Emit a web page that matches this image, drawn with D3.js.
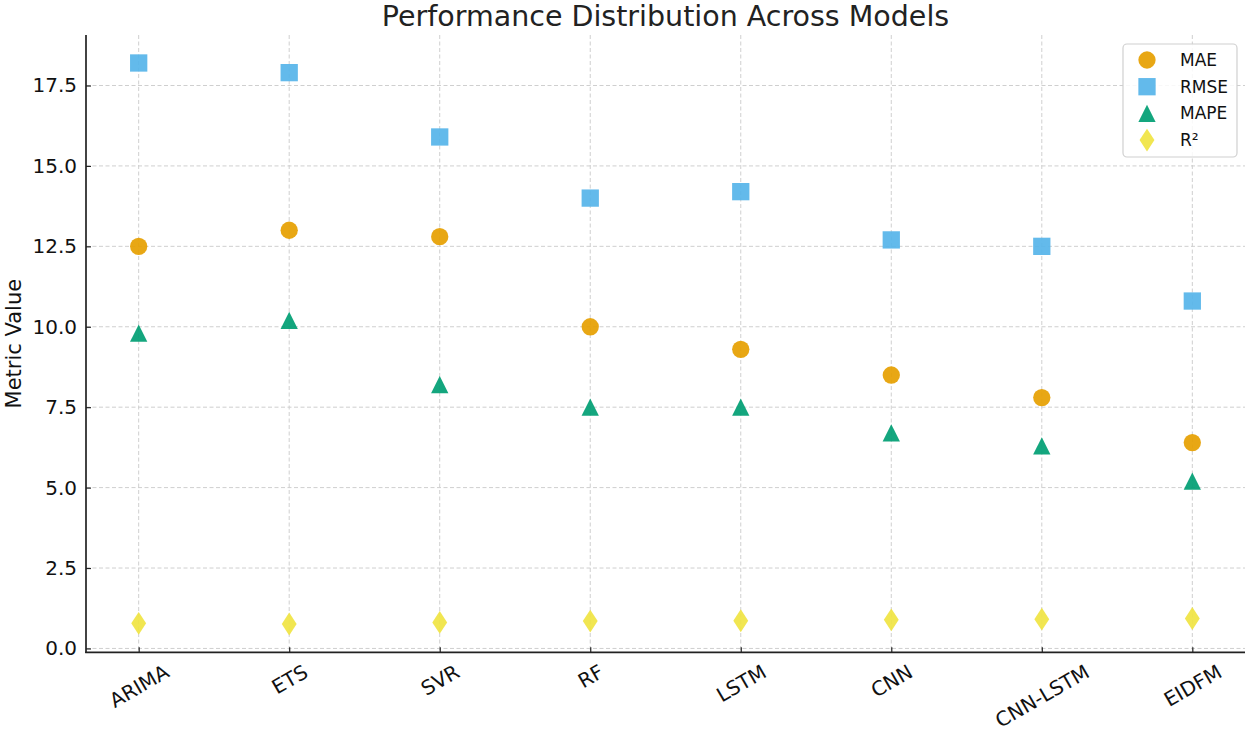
<!DOCTYPE html>
<html>
<head>
<meta charset="utf-8">
<script src="https://cdn.jsdelivr.net/npm/d3@7"></script>
<style>
  body { margin: 0; background: #fff; }
  svg { display: block; font-family: "DejaVu Sans", sans-serif; }
</style>
</head>
<body>
<svg id="chart" width="1250" height="729"></svg>
<script>
// Values
const models = ["ARIMA", "ETS", "SVR", "RF", "LSTM", "CNN", "CNN-LSTM", "EIDFM"];
const mae  = [12.5, 13.0, 12.8, 10.0, 9.3, 8.5, 7.8, 6.4];
const rmse = [18.2, 17.9, 15.9, 14.0, 14.2, 12.7, 12.5, 10.8];
const mape = [9.8, 10.2, 8.2, 7.5, 7.5, 6.7, 6.3, 5.2];
const r2   = [0.78, 0.76, 0.81, 0.85, 0.86, 0.89, 0.91, 0.93];
const yTicks = [0, 2.5, 5, 7.5, 10, 12.5, 15, 17.5];

// Custom marker shapes (size = marker width in px, like matplotlib markers)
const triangleUp = {
  draw(ctx, s) {
    const h = s / 2;
    ctx.moveTo(0, -h);
    ctx.lineTo(h, h);
    ctx.lineTo(-h, h);
    ctx.closePath();
  }
};
const thinDiamond = {
  draw(ctx, s) {
    const hh = s * 0.66, hw = s * 0.43;
    ctx.moveTo(0, -hh);
    ctx.lineTo(hw, 0);
    ctx.lineTo(0, hh);
    ctx.lineTo(-hw, 0);
    ctx.closePath();
  }
};
const markerW = 17.3;

const series = [
  { name: "MAE",  values: mae,  color: "#E69F00", type: d3.symbolCircle, size: Math.PI * (markerW / 2) ** 2 },
  { name: "RMSE", values: rmse, color: "#56B4E9", type: d3.symbolSquare, size: markerW * markerW },
  { name: "MAPE", values: mape, color: "#009E73", type: triangleUp,      size: markerW },
  { name: "R²",   values: r2,   color: "#F0E442", type: thinDiamond,     size: markerW }
];

const svg = d3.select("#chart");
const plotL = 86, plotR = 1245, plotT = 35, plotB = 652.3;
const tickFont = 20;

const x = d3.scalePoint()
  .domain(models)
  .range([plotL, plotR])
  .padding(0.35);

const y = d3.scaleLinear()
  .domain([-0.12, 19.07])
  .range([plotB, plotT]);

// Grid lines
const grid = svg.append("g")
  .attr("stroke", "#cfcfcf")
  .attr("stroke-width", 1)
  .attr("stroke-dasharray", "4,2.5");

grid.selectAll("line.h")
  .data(yTicks)
  .join("line")
  .attr("class", "h")
  .attr("x1", plotL).attr("x2", plotR)
  .attr("y1", d => y(d)).attr("y2", d => y(d));

grid.selectAll("line.v")
  .data(models)
  .join("line")
  .attr("class", "v")
  .attr("x1", d => x(d)).attr("x2", d => x(d))
  .attr("y1", plotT).attr("y2", plotB);

// Markers
series.forEach(s => {
  const sym = d3.symbol().type(s.type).size(s.size);
  svg.append("g")
    .selectAll("path")
    .data(s.values)
    .join("path")
    .attr("d", sym)
    .attr("transform", (d, i) => `translate(${x(models[i])},${y(d)})`)
    .attr("fill", s.color)
    .attr("fill-opacity", 0.92);
});

// Axes (inward ticks, left and bottom spines only)
const yAxis = svg.append("g")
  .attr("transform", `translate(${plotL},0)`)
  .call(d3.axisLeft(y).tickValues(yTicks).tickFormat(d3.format(".1f")).tickSizeInner(-5).tickSizeOuter(0).tickPadding(9));
yAxis.select(".domain").remove();

const xAxis = svg.append("g")
  .attr("transform", `translate(0,${plotB})`)
  .call(d3.axisBottom(x).tickSizeInner(-5).tickSizeOuter(0));
xAxis.select(".domain").remove();

svg.selectAll(".tick line").attr("stroke", "#222").attr("stroke-width", 1.2);
yAxis.selectAll("text").attr("font-size", tickFont).attr("fill", "#111")
  .attr("font-family", "DejaVu Sans");

// rotated x labels, centred under tick like matplotlib rotation=30
xAxis.selectAll(".tick text")
  .attr("font-size", tickFont).attr("fill", "#111")
  .attr("font-family", "DejaVu Sans")
  .attr("text-anchor", "middle")
  .attr("dy", null)
  .attr("y", null)
  .attr("dominant-baseline", "central")
  .each(function () {
    const w = this.getComputedTextLength();
    const h = tickFont * 1.0;
    const a = 30 * Math.PI / 180;
    const bh = w * Math.sin(a) + h * Math.cos(a);
    d3.select(this).attr("transform", `translate(0,${9 + bh / 2}) rotate(-30)`);
  });

// spines
svg.append("line")
  .attr("x1", plotL).attr("x2", plotL).attr("y1", plotT).attr("y2", plotB + 0.8)
  .attr("stroke", "#222").attr("stroke-width", 1.7);
svg.append("line")
  .attr("x1", plotL - 0.8).attr("x2", plotR).attr("y1", plotB).attr("y2", plotB)
  .attr("stroke", "#222").attr("stroke-width", 1.7);

// Title and axis label
svg.append("text")
  .attr("x", (plotL + plotR) / 2)
  .attr("y", 25.5)
  .attr("text-anchor", "middle")
  .attr("font-size", 28.5)
  .attr("fill", "#222")
  .text("Performance Distribution Across Models");

svg.append("text")
  .attr("transform", `translate(21,${(plotT + plotB) / 2}) rotate(-90)`)
  .attr("text-anchor", "middle")
  .attr("font-size", 21)
  .attr("fill", "#111")
  .text("Metric Value");

// Legend
const legend = svg.append("g");
legend.append("rect")
  .attr("x", 1123).attr("y", 44)
  .attr("width", 114).attr("height", 113)
  .attr("rx", 4)
  .attr("fill", "#fff").attr("fill-opacity", 0.85)
  .attr("stroke", "#d0d0d0").attr("stroke-width", 1.2);

const rows = legend.selectAll("g.row")
  .data(series)
  .join("g")
  .attr("class", "row")
  .attr("transform", (d, i) => `translate(1147,${60 + i * 26.7})`);

rows.append("path")
  .attr("d", d => d3.symbol().type(d.type).size(d.size)())
  .attr("fill", d => d.color)
  .attr("fill-opacity", 0.92);

rows.append("text")
  .attr("x", 33)
  .attr("dominant-baseline", "central")
  .attr("font-size", 17)
  .attr("fill", "#111")
  .text(d => d.name);
</script>
</body>
</html>
